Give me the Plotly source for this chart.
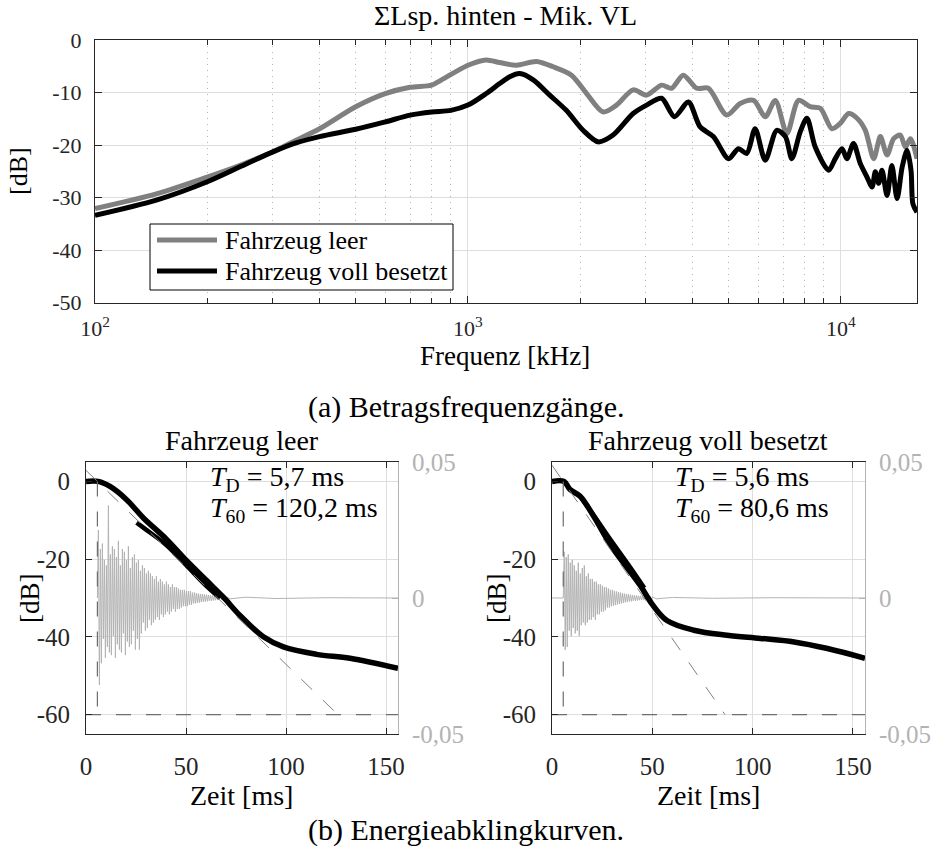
import numpy as np
import plotly.graph_objects as go

W, H = 932, 850
FONT = "'Liberation Serif', 'DejaVu Serif', 'Times New Roman', serif"
AX = "#262626"
GRID = "#dedede"
MINOR_GRID = "#b4b4b4"
IR_COL = "#b3b3b3"

# ---------------- (a) frequency responses ----------------
freq_leer = [100, 146, 200, 244, 300, 346, 400, 500, 600, 700, 800, 850, 1000, 1119, 1216, 1349,
             1527, 1692, 1895, 2081, 2305, 2503, 2773, 3013, 3305, 3515, 3780, 4105, 4412, 4943,
             5370, 5834, 6270, 6670, 7166, 7699, 8272, 8808, 9463, 9960, 10490, 11050, 11630,
             12250, 12760, 13300, 13850, 14430, 14890, 15360, 16000]
db_leer = [-32.1, -29.3, -26.1, -23.9, -21.3, -19.1, -16.9, -12.7, -10.2, -9.0, -8.6, -7.6, -4.8,
           -3.8, -4.3, -4.8, -4.1, -5.1, -6.7, -10.2, -13.7, -12.4, -9.5, -10.5, -8.6, -9.2, -6.7,
           -9.2, -9.2, -14.3, -12.1, -11.5, -14.6, -11.5, -17.8, -11.5, -12.7, -13.0, -16.9,
           -15.9, -14.0, -14.9, -17.2, -22.6, -18.4, -21.9, -18.8, -18.1, -20.4, -18.8, -22.6]

freq_voll = [100, 146, 200, 244, 300, 346, 400, 500, 600, 700, 800, 900, 1000, 1119, 1216, 1294,
             1377, 1496, 1657, 1835, 2036, 2234, 2450, 2773, 3013, 3305, 3580, 3900, 4190, 4550,
             5000, 5310, 5594, 5890, 6270, 6730, 7100, 7388, 7780, 8110, 8535, 9270, 9660, 10070,
             10380, 10810, 11270, 11750, 12120, 12370, 12630, 12890, 13300, 13700, 14150, 14600,
             15050, 15420, 15600, 16000]
db_voll = [-33.4, -30.5, -27.0, -24.2, -21.3, -19.6, -18.4, -17.0, -15.6, -14.3, -13.7, -13.4,
           -12.4, -10.2, -8.3, -7.0, -6.4, -7.6, -10.5, -13.4, -17.2, -19.4, -18.1, -14.0, -12.4,
           -11.1, -14.6, -11.8, -16.5, -18.4, -22.6, -20.7, -21.6, -16.9, -22.9, -17.2, -18.4,
           -22.6, -17.5, -14.9, -20.4, -24.8, -22.6, -20.7, -22.6, -19.7, -23.5, -26.1, -28.0,
           -25.1, -27.3, -24.8, -29.6, -23.9, -30.2, -24.2, -21.0, -24.8, -31.2, -32.8]

freq_major = [100, 1000, 10000]
freq_major_text = ["10<sup>2</sup>", "10<sup>3</sup>", "10<sup>4</sup>"]
freq_minor = [200, 300, 400, 500, 600, 700, 800, 900, 2000, 3000, 4000, 5000, 6000, 7000, 8000, 9000]
db_ticks_a = [0, -10, -20, -30, -40, -50]

# ---------------- (b) energy decay curves ----------------
td_leer, t60_leer = 5.7, 120.2
td_voll, t60_voll = 5.6, 80.6

edc_leer_t = [0, 6.2, 12, 20.3, 28.7, 40.3, 50.3, 60.3, 68.7, 77, 88.7, 98.7, 115.3, 132, 156]
edc_leer_db = [0, 0, -1.3, -4.7, -9.4, -14.9, -20.4, -25.5, -29.8, -34.5, -40.0, -42.6, -44.5, -45.5, -48.1]
band_leer_t = [25.3, 30, 40, 50, 60, 67]
band_leer_db = [-10.6, -12.4, -16.3, -21.5, -26.8, -30.0]

edc_voll_t = [0, 6, 9, 14, 20.7, 29, 37.3, 44, 49.8, 57.3, 70.7, 87.3, 104, 120.7, 137.3, 156]
edc_voll_db = [0, 0, -2.1, -3.8, -8.9, -16.2, -22.1, -26.8, -31.5, -35.8, -38.3, -39.6, -40.4, -41.3, -43.0, -45.5]
band_voll_t = [15, 22, 30, 38, 46]
band_voll_db = [-4.5, -9.6, -15.6, -21.4, -27.4]

# impulse responses (values in 1/1000), sampled every 0.5 ms from the onset
ir_dt = 0.5
ir_leer_start = 5.7
ir_leer_milli = [0, 25, -32, 18, -24, 20, -15, 14, -22, 12, -18, 34, -20, 16, -21, 19, -14, 18, -22,
                 15, -17, 21, -19, 12, -20, 18, -13, 17, -21, 14, -16, 19, -18, 11, -17, 15, -12, 16,
                 -19, 13, -15, 14, -19, 10, -13, 12, -9, 11, -12, 9, -11, 10, -8, 9, -10, 8, -9, 7,
                 -8, 8, -7, 6, -8, 7, -6, 6, -7, 5, -6, 6, -5, 5, -6, 4, -5, 5, -4, 4, -5, 4, -4,
                 3.5, -4, 3, -3.5, 3, -3, 3, -3, 2.5, -3, 2.5, -2.5, 2.5, -2.5, 2, -2, 2, -2, 1.8,
                 -1.8, 1.6, -1.7, 1.5, -1.5, 1.4, -1.4, 1.3, -1.3, 1.2, -1.2, 1.1, -1.1, 1, -1, 0.9,
                 -0.9, 0.8, -0.8, 0.8, -0.7, 0.7, -0.6, 0.6, -0.6, 0.5, -0.5, 0.5, -0.4, 0.4]
ir_leer_tail_t = [72, 80, 95, 120, 156]
ir_leer_tail_milli = [-0.3, 0.3, -0.2, 0.1, 0]

ir_voll_start = 5.6
ir_voll_milli = [0, 17, -19, 15, -18, 16, -12, 13, -14, 14, -11, 12, -13, 10, -12, 13, -14, 9, -10,
                 11, -9, 12, -10, 8, -9, 9, -8, 7, -8, 7, -7, 6, -8, 6, -6, 5, -6, 5, -5, 4.5, -5,
                 4, -4.5, 4, -3.5, 3.5, -3.5, 3, -3, 3, -2.8, 2.6, -2.6, 2.4, -2.4, 2.2, -2.2, 2, -2,
                 1.8, -1.8, 1.6, -1.6, 1.5, -1.5, 1.4, -1.3, 1.2, -1.2, 1.1, -1.1, 1, -1, 0.9, -0.9,
                 0.8, -0.8, 0.8, -0.7, 0.7, -0.7, 0.6, -0.6, 0.6, -0.5, 0.5, -0.5, 0.5, -0.4, 0.4]
ir_voll_head_t = [0, 5.5]
ir_voll_head_milli = [0, 0]
ir_voll_tail_t = [52, 60, 80, 110, 156]
ir_voll_tail_milli = [-0.3, 0.2, -0.1, 0.1, 0]

t_ticks = [0, 50, 100, 150]
db_ticks_b = [0, -20, -40, -60]
ir_ticks = [-0.05, 0, 0.05]
ir_ticks_text = ["-0,05", "0", "0,05"]


def px(x):
    return x / W


def py(y):
    return 1 - y / H


fig = go.Figure()

# ---- top traces
fig.add_trace(go.Scatter(x=freq_leer, y=db_leer, mode="lines", name="Fahrzeug leer",
                         line=dict(color="#808080", width=5, shape="spline", smoothing=0.8),
                         xaxis="x", yaxis="y"))
fig.add_trace(go.Scatter(x=freq_voll, y=db_voll, mode="lines", name="Fahrzeug voll besetzt",
                         line=dict(color="black", width=5, shape="spline", smoothing=0.8),
                         xaxis="x", yaxis="y"))


def ir_series(start, vals, head_t=None, head_v=None, tail_t=None, tail_v=None):
    t = list(start + ir_dt * np.arange(len(vals)))
    v = list(vals)
    if head_t is not None:
        t = list(head_t) + t
        v = list(head_v) + v
    if tail_t is not None:
        t = t + list(tail_t)
        v = v + list(tail_v)
    return t, np.array(v) / 1000.0


def add_panel(xa, ya_ir, ya_db, ir_t, ir_v, edc_t, edc_db, band_t, band_db, td, t60):
    fig.add_trace(go.Scatter(x=ir_t, y=ir_v, mode="lines", line=dict(color=IR_COL, width=1),
                             xaxis=xa, yaxis=ya_ir, showlegend=False))
    fig.add_trace(go.Scatter(x=edc_t, y=edc_db, mode="lines",
                             line=dict(color="black", width=5.5, shape="spline"),
                             xaxis=xa, yaxis=ya_db, showlegend=False))
    fig.add_trace(go.Scatter(x=band_t, y=band_db, mode="lines",
                             line=dict(color="black", width=4.5, shape="spline"),
                             xaxis=xa, yaxis=ya_db, showlegend=False))
    dash_style = dict(color="#6e6e6e", width=1.2, dash="longdash")
    # -60 dB level
    fig.add_trace(go.Scatter(x=[0, 156], y=[-60, -60], mode="lines", line=dash_style,
                             xaxis=xa, yaxis=ya_db, showlegend=False))
    # onset T_D
    fig.add_trace(go.Scatter(x=[td, td], y=[0, -60], mode="lines", line=dash_style,
                             xaxis=xa, yaxis=ya_db, showlegend=False))
    # T60 decay line through (T_D, 0)
    fig.add_trace(go.Scatter(x=[0, td + t60], y=[60 * td / t60, -60], mode="lines",
                             line=dict(color="#808080", width=1, dash="longdash"),
                             xaxis=xa, yaxis=ya_db, showlegend=False))


irl_t, irl_v = ir_series(ir_leer_start, ir_leer_milli, tail_t=ir_leer_tail_t, tail_v=ir_leer_tail_milli)
irv_t, irv_v = ir_series(ir_voll_start, ir_voll_milli, ir_voll_head_t, ir_voll_head_milli,
                         ir_voll_tail_t, ir_voll_tail_milli)

add_panel("x2", "y2", "y3", irl_t, irl_v, edc_leer_t, edc_leer_db, band_leer_t, band_leer_db, td_leer, t60_leer)
add_panel("x3", "y4", "y5", irv_t, irv_v, edc_voll_t, edc_voll_db, band_voll_t, band_voll_db, td_voll, t60_voll)

tick_font_a = dict(family=FONT, size=22, color=AX)
tick_font_b = dict(family=FONT, size=25, color=AX)
ir_font = dict(family=FONT, size=25, color=IR_COL)

common = dict(showline=True, linecolor=AX, linewidth=1, ticks="inside", tickcolor=AX,
              zeroline=False, showgrid=True, gridcolor=GRID, gridwidth=1, automargin=False)

layout = dict(
    template="none",
    width=W, height=H, margin=dict(l=0, r=0, t=0, b=0, pad=0, autoexpand=False),
    paper_bgcolor="white", plot_bgcolor="white", showlegend=False,
    font=dict(family=FONT, color=AX),
    xaxis=dict(domain=[px(95), px(917)], anchor="y", type="log",
               range=[2, np.log10(16000)], tickvals=freq_major, ticktext=freq_major_text,
               tickfont=tick_font_a, ticklen=7, mirror="ticks", ticklabelstandoff=6,
               minor=dict(tickvals=freq_minor, ticks="inside", ticklen=5, tickcolor=AX,
                          showgrid=True, gridcolor=MINOR_GRID, griddash="1px,5px", gridwidth=1),
               **common),
    yaxis=dict(domain=[py(302.5), py(40)], anchor="x", range=[-50, 0],
               tickvals=db_ticks_a, ticktext=[str(v) for v in db_ticks_a],
               tickfont=tick_font_a, ticklen=7, mirror="ticks", ticklabelstandoff=8, **common),
    xaxis2=dict(domain=[px(86), px(398)], anchor="y2", range=[0, 156],
                tickvals=t_ticks, ticktext=[str(v) for v in t_ticks], tickfont=tick_font_b,
                ticklen=6, mirror="ticks", ticklabelstandoff=10, **common),
    yaxis2=dict(domain=[py(734), py(462)], anchor="x2", side="right", range=[-0.05, 0.05],
                tickvals=ir_ticks, ticktext=ir_ticks_text, tickfont=ir_font, showline=True,
                linecolor=IR_COL, ticks="inside", tickcolor=IR_COL, ticklen=6, showgrid=False,
                zeroline=False, ticklabelstandoff=8, automargin=False),
    yaxis3=dict(overlaying="y2", anchor="x2", side="left", range=[-65, 5],
                tickvals=db_ticks_b, ticktext=[str(v) for v in db_ticks_b], tickfont=tick_font_b,
                ticklen=6, ticklabelstandoff=10, **common),
    xaxis3=dict(domain=[px(552), px(865)], anchor="y4", range=[0, 156],
                tickvals=t_ticks, ticktext=[str(v) for v in t_ticks], tickfont=tick_font_b,
                ticklen=6, mirror="ticks", ticklabelstandoff=10, **common),
    yaxis4=dict(domain=[py(734), py(462)], anchor="x3", side="right", range=[-0.05, 0.05],
                tickvals=ir_ticks, ticktext=ir_ticks_text, tickfont=ir_font, showline=True,
                linecolor=IR_COL, ticks="inside", tickcolor=IR_COL, ticklen=6, showgrid=False,
                zeroline=False, ticklabelstandoff=8, automargin=False),
    yaxis5=dict(overlaying="y4", anchor="x3", side="left", range=[-65, 5],
                tickvals=db_ticks_b, ticktext=[str(v) for v in db_ticks_b], tickfont=tick_font_b,
                ticklen=6, ticklabelstandoff=10, **common),
)
fig.update_layout(**layout)


def text(x, y, s, size, anchor="center", angle=0):
    fig.add_annotation(x=px(x), y=py(y), xref="paper", yref="paper", text=s, showarrow=False,
                       xanchor=anchor, yanchor="middle", textangle=angle,
                       font=dict(family=FONT, size=size, color="black"))


text(505, 16, "ΣLsp. hinten - Mik. VL", 28)
text(18, 171, "[dB]", 26, angle=-90)
text(505, 356, "Frequenz [kHz]", 27)
text(466, 407, "(a) Betragsfrequenzgänge.", 30)
text(242, 440, "Fahrzeug leer", 28)
text(708, 440, "Fahrzeug voll besetzt", 28)
text(30, 598, "[dB]", 27, angle=-90)
text(497, 598, "[dB]", 27, angle=-90)
text(242, 795, "Zeit [ms]", 28)
text(708, 795, "Zeit [ms]", 28)
text(466, 830, "(b) Energieabklingkurven.", 30)
text(208, 479, "<i>T</i><sub>D</sub> = 5,7 ms", 28, anchor="left")
text(208, 509, "<i>T</i><sub>60</sub> = 120,2 ms", 28, anchor="left")
text(673, 479, "<i>T</i><sub>D</sub> = 5,6 ms", 28, anchor="left")
text(673, 509, "<i>T</i><sub>60</sub> = 80,6 ms", 28, anchor="left")

# legend (box, line samples, labels)
fig.add_shape(type="rect", xref="paper", yref="paper", x0=px(150), x1=px(453), y0=py(290), y1=py(224),
              line=dict(color="black", width=1), fillcolor="white", layer="above")
fig.add_shape(type="line", xref="paper", yref="paper", x0=px(157), x1=px(217), y0=py(240), y1=py(240),
              line=dict(color="#808080", width=5), layer="above")
fig.add_shape(type="line", xref="paper", yref="paper", x0=px(157), x1=px(217), y0=py(271), y1=py(271),
              line=dict(color="black", width=5), layer="above")
text(223, 240, "Fahrzeug leer", 26, anchor="left")
text(223, 271, "Fahrzeug voll besetzt", 26, anchor="left")

fig.write_html("out.html", config={"displayModeBar": False},
               post_script="document.body.style.margin='0px';document.body.style.overflow='hidden';")
